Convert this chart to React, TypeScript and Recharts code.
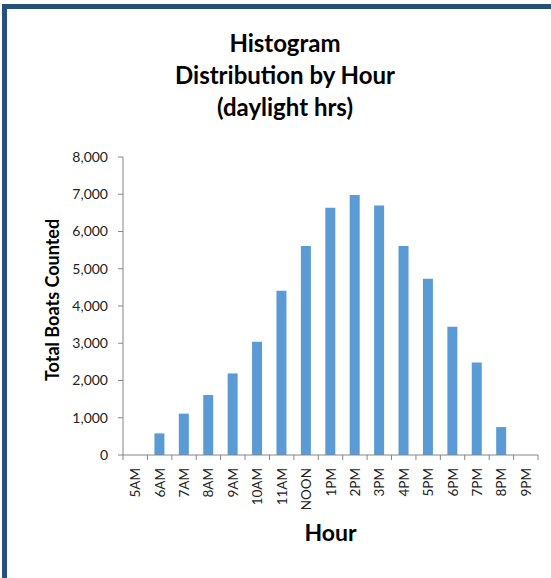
import React from 'react'
import { BarChart, Bar, XAxis, YAxis, Label } from 'recharts'

const hours = ['5AM', '6AM', '7AM', '8AM', '9AM', '10AM', '11AM', 'NOON', '1PM', '2PM', '3PM', '4PM', '5PM', '6PM', '7PM', '8PM', '9PM']
const boats = [0, 580, 1110, 1610, 2190, 3040, 4410, 5610, 6640, 6980, 6700, 5610, 4730, 3440, 2480, 750, 0]
const yTicks = [0, 1000, 2000, 3000, 4000, 5000, 6000, 7000, 8000]
const titleLines = ['Histogram', 'Distribution by Hour', '(daylight hrs)']

const data = hours.map((h, i) => ({ hour: h, boats: boats[i] }))

const FONT = 'Lato, "Liberation Sans", sans-serif'
const AXIS = '#868686'
const TICK_SIZE = 5
const TICK_MARGIN = 8

// Excel style: tick marks between categories, labels rotated
const HourTick = (props: any) => {
  const { x, y, payload, index } = props
  const half = payload.offset || 12.2
  const axisY = y - TICK_SIZE - TICK_MARGIN
  return (
    <g>
      <line x1={x - half} x2={x - half} y1={axisY} y2={axisY + TICK_SIZE} stroke={AXIS} />
      {index === hours.length - 1 && (
        <line x1={x + half} x2={x + half} y1={axisY} y2={axisY + TICK_SIZE} stroke={AXIS} />
      )}
      <text
        x={x}
        y={y}
        transform={`rotate(-90, ${x}, ${y})`}
        textAnchor="end"
        dominantBaseline="central"
        fontSize={13.5}
        fontFamily={FONT}
        fill="#222"
      >
        {payload.value}
      </text>
    </g>
  )
}

const YTitle = (props: any) => {
  const vb = props.viewBox || { x: 0, y: 157, width: 123, height: 298 }
  const cx = vb.x + 52
  const cy = vb.y + vb.height / 2 - 6
  return (
    <text
      x={cx}
      y={cy}
      transform={`rotate(-90, ${cx}, ${cy})`}
      textAnchor="middle"
      dominantBaseline="central"
      fontFamily={FONT}
      fontWeight="bold"
      fontSize={18}
      fill="#000"
    >
      Total Boats Counted
    </text>
  )
}

const App = () => {
  return (
    <div style={{ position: 'absolute', left: 0, top: 0, width: 551, height: 578, overflow: 'hidden', background: '#fff' }}>
      {/* frame */}
      <div
        style={{
          position: 'absolute',
          left: 2,
          top: 4,
          width: 600,
          height: 620,
          borderTop: '5px solid #24507a',
          borderLeft: '5px solid #24507a',
        }}
      />

      {/* title */}
      <div
        style={{
          position: 'absolute',
          left: 20,
          top: 27,
          width: 530,
          textAlign: 'center',
          fontFamily: FONT,
          fontWeight: 'bold',
          fontSize: 24,
          lineHeight: '32px',
          color: '#000',
        }}
      >
        {titleLines.map((t) => (
          <div key={t}>{t}</div>
        ))}
      </div>

      <div style={{ position: 'absolute', left: 0, top: 0 }}>
        <BarChart width={551} height={578} data={data} margin={{ top: 157, right: 13, bottom: 0, left: 0 }}>
          <XAxis
            dataKey="hour"
            height={123}
            interval={0}
            stroke={AXIS}
            tickLine={false}
            tickSize={TICK_SIZE}
            tickMargin={TICK_MARGIN}
            tick={<HourTick />}
          >
            <Label
              value="Hour"
              position="insideBottom"
              offset={37}
              style={{ fontFamily: FONT, fontWeight: 'bold', fontSize: 23, fill: '#000' }}
            />
          </XAxis>
          <YAxis
            width={123}
            domain={[0, 8000]}
            ticks={yTicks}
            stroke={AXIS}
            tickSize={TICK_SIZE}
            tickMargin={10}
            tickFormatter={(v: number) => v.toLocaleString('en-US')}
            tick={{ fontFamily: FONT, fontSize: 14, fill: '#222' }}
          >
            <Label content={<YTitle />} />
          </YAxis>
          <Bar dataKey="boats" fill="#5b9bd5" barSize={10} isAnimationActive={false} />
        </BarChart>
      </div>
    </div>
  )
}

export default App
